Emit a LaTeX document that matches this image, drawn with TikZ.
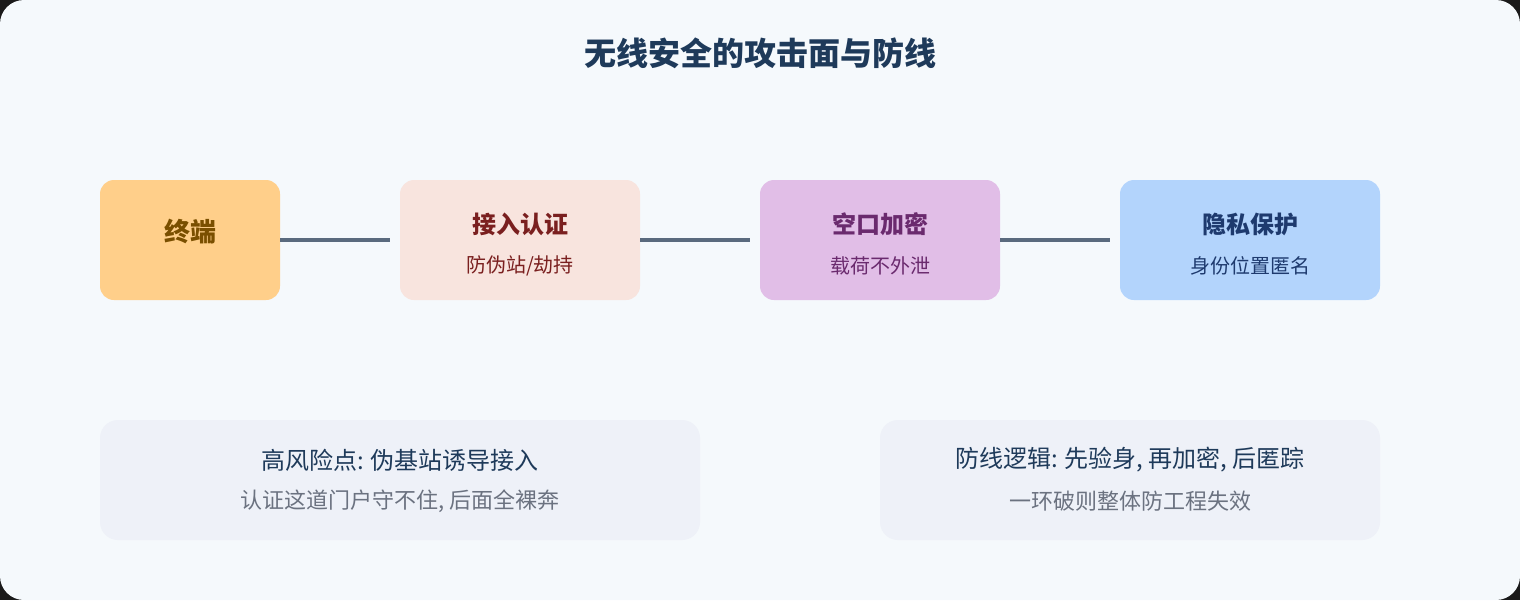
\documentclass[tikz,border=0pt]{standalone}
\usepackage{fontspec}
\setmainfont{Noto Sans CJK SC}
\newfontfamily\cjk{Noto Sans CJK SC}
\definecolor{bgc}{HTML}{F5F9FC}
\definecolor{edgec}{HTML}{1A1A1A}
\definecolor{titlec}{HTML}{1E3A5A}
\definecolor{linec}{HTML}{5A6A7E}
\definecolor{f1}{HTML}{FFCF8A}
\definecolor{t1}{HTML}{7A4F00}
\definecolor{f2}{HTML}{F8E4DE}
\definecolor{t2}{HTML}{7A1F1F}
\definecolor{f3}{HTML}{E1BEE7}
\definecolor{t3}{HTML}{6A2A6E}
\definecolor{f4}{HTML}{B3D4FC}
\definecolor{t4}{HTML}{1E3A6E}
\definecolor{notef}{HTML}{EEF1F8}
\definecolor{notet}{HTML}{1E3A5A}
\definecolor{greyt}{HTML}{6B7280}
\tikzset{
  stagebox/.style={rounded corners=14pt, draw=none, minimum height=120pt, inner sep=0pt},
  notebox/.style={rounded corners=18pt, fill=notef, draw=none, minimum height=120pt, inner sep=0pt},
  conn/.style={draw=linec, line width=4pt},
  headtxt/.style={font=\cjk\bfseries\fontsize{24}{28}\selectfont},
  subtxt/.style={font=\cjk\fontsize{20}{24}\selectfont},
  n1txt/.style={font=\cjk\fontsize{24}{28}\selectfont, text=notet},
  n2txt/.style={font=\cjk\fontsize{22}{26}\selectfont, text=greyt},
}
\begin{document}
\begin{tikzpicture}[x=1pt,y=-1pt]
\useasboundingbox (0,0) rectangle (1520,600);
\fill[edgec] (0,0) rectangle (1520,600);
\fill[bgc, rounded corners=24pt] (0,0) rectangle (1520,600);
\node[font=\cjk\bfseries\fontsize{32}{36}\selectfont, text=titlec] (title) at (760,53) {无线安全的攻击面与防线};
% stage boxes
\node[stagebox, fill=f1, minimum width=180pt] (b1) at (190,240) {};
\node[stagebox, fill=f2, minimum width=240pt] (b2) at (520,240) {};
\node[stagebox, fill=f3, minimum width=240pt] (b3) at (880,240) {};
\node[stagebox, fill=f4, minimum width=260pt] (b4) at (1250,240) {};
\node[headtxt, font=\cjk\bfseries\fontsize{26}{30}\selectfont, text=t1] (h1) at (190,232) {终端};
\node[headtxt, text=t2] (h2) at (520,224) {接入认证};
\node[subtxt, text=t2] (s2) at (520,266) {防伪站/劫持};
\node[headtxt, text=t3] (h3) at (880,224) {空口加密};
\node[subtxt, text=t3] (s3) at (880,266) {载荷不外泄};
\node[headtxt, text=t4] (h4) at (1250,224) {隐私保护};
\node[subtxt, text=t4] (s4) at (1250,266) {身份位置匿名};
% connectors
\draw[conn] (b1.east) -- ([xshift=-10pt]b2.west);
\draw[conn] (b2.east) -- ([xshift=-10pt]b3.west);
\draw[conn] (b3.east) -- ([xshift=-10pt]b4.west);
% notes
\node[notebox, minimum width=600pt] (n1) at (400,480) {};
\node[notebox, minimum width=500pt] (n2) at (1130,480) {};
\node[n1txt] (n1a) at (400,460) {高风险点: 伪基站诱导接入};
\node[n2txt] (n1b) at (400,501) {认证这道门户守不住, 后面全裸奔};
\node[n1txt] (n2a) at (1130,460) {防线逻辑: 先验身, 再加密, 后匿踪};
\node[n2txt] (n2b) at (1130,501) {一环破则整体防工程失效};
\end{tikzpicture}
\end{document}
